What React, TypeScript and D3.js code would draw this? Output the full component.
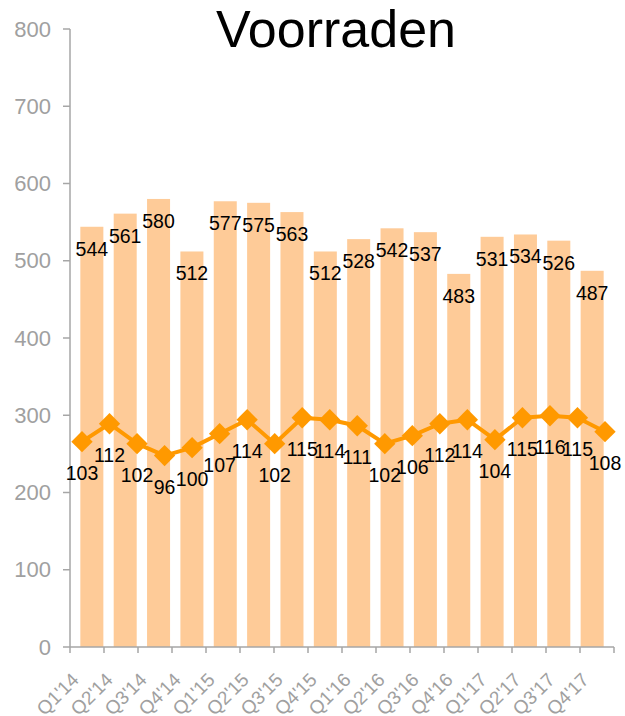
import React, { useEffect, useRef } from 'react';
import * as d3 from 'd3';

const quarters = [
  "Q1'14", "Q2'14", "Q3'14", "Q4'14",
  "Q1'15", "Q2'15", "Q3'15", "Q4'15",
  "Q1'16", "Q2'16", "Q3'16", "Q4'16",
  "Q1'17", "Q2'17", "Q3'17", "Q4'17",
];
const stockValues = [544, 561, 580, 512, 577, 575, 563, 512, 528, 542, 537, 483, 531, 534, 526, 487];
const indexValues = [103, 112, 102, 96, 100, 107, 114, 102, 115, 114, 111, 102, 106, 112, 114, 104, 115, 116, 115, 108];
const yTicks = [0, 100, 200, 300, 400, 500, 600, 700, 800];

const FONT = '"Liberation Sans", Arial, sans-serif';

const App: React.FC = () => {
  const svgRef = useRef<SVGSVGElement>(null);
  const width = 625;
  const height = 716;

  useEffect(() => {
    if (!svgRef.current) return;
    const svg = d3.select(svgRef.current);
    svg.selectAll('*').remove();

    const left = 70;
    const right = 614;
    const top = 29;
    const bottom = 647;

    const x = d3.scaleBand<string>().domain(quarters).range([left, right]).padding(0.31);
    const xOuter = d3.scaleBand<string>().domain(quarters).range([left, right]);
    const y = d3.scaleLinear().domain([0, 800]).range([bottom, top]);
    // secondary (hidden) axis for the line series
    const y2 = d3.scaleLinear().domain([0, 310]).range([bottom, top]);
    const xLine = d3.scalePoint<number>().domain(indexValues.map((_, i) => i)).range([82, 605]);

    // Title
    svg.append('text')
      .attr('x', 336)
      .attr('y', 47)
      .attr('text-anchor', 'middle')
      .style('font-family', FONT)
      .style('font-size', '52px')
      .style('fill', '#000')
      .text('Voorraden');

    // Bars
    svg.selectAll('.bar')
      .data(stockValues)
      .enter().append('rect')
      .attr('x', (_, i) => x(quarters[i]) || 0)
      .attr('width', x.bandwidth())
      .attr('y', d => y(d))
      .attr('height', d => bottom - y(d))
      .attr('fill', '#FECB98');

    // Bar labels
    svg.selectAll('.barlabel')
      .data(stockValues)
      .enter().append('text')
      .attr('x', (_, i) => (x(quarters[i]) || 0) + x.bandwidth() / 2)
      .attr('y', d => y(d) + 29)
      .attr('text-anchor', 'middle')
      .style('font-family', FONT)
      .style('font-size', '19.5px')
      .style('fill', '#000')
      .text(d => d);

    // Y axis
    const axisColor = '#A6A6A6';
    svg.append('line')
      .attr('x1', left).attr('x2', left)
      .attr('y1', top).attr('y2', bottom)
      .attr('stroke', axisColor).attr('stroke-width', 1.5);
    yTicks.forEach(t => {
      svg.append('line')
        .attr('x1', left - 7).attr('x2', left)
        .attr('y1', y(t)).attr('y2', y(t))
        .attr('stroke', axisColor).attr('stroke-width', 1.5);
      svg.append('text')
        .attr('x', 51)
        .attr('y', y(t))
        .attr('dy', '0.35em')
        .attr('text-anchor', 'end')
        .style('font-family', FONT)
        .style('font-size', '22px')
        .style('fill', '#A0A0A0')
        .text(t);
    });

    // X axis
    svg.append('line')
      .attr('x1', left).attr('x2', right)
      .attr('y1', bottom).attr('y2', bottom)
      .attr('stroke', axisColor).attr('stroke-width', 1.5);
    const boundaries = quarters.map(q => xOuter(q) || 0).concat([right]);
    boundaries.forEach(b => {
      svg.append('line')
        .attr('x1', b).attr('x2', b)
        .attr('y1', bottom).attr('y2', bottom + 6)
        .attr('stroke', axisColor).attr('stroke-width', 1.5);
    });
    quarters.forEach(q => {
      const cx = (xOuter(q) || 0) + xOuter.bandwidth() / 2 - 7;
      svg.append('text')
        .attr('transform', `translate(${cx},${bottom + 34}) rotate(-45)`)
        .attr('text-anchor', 'end')
        .style('font-family', FONT)
        .style('font-size', '19px')
        .style('fill', '#A0A0A0')
        .text(q);
    });

    // Line series
    const line = d3.line<number>()
      .x((_, i) => xLine(i) || 0)
      .y(d => y2(d));
    svg.append('path')
      .datum(indexValues)
      .attr('d', line)
      .attr('fill', 'none')
      .attr('stroke', '#FF9900')
      .attr('stroke-width', 4)
      .attr('stroke-linejoin', 'round');

    svg.selectAll('.marker')
      .data(indexValues)
      .enter().append('path')
      .attr('d', d3.symbol().type(d3.symbolDiamond2).size(290)())
      .attr('transform', (d, i) => `translate(${xLine(i)},${y2(d)})`)
      .attr('fill', '#FF9900');

    svg.selectAll('.linelabel')
      .data(indexValues)
      .enter().append('text')
      .attr('x', (_, i) => xLine(i) || 0)
      .attr('y', d => y2(d) + 38)
      .attr('text-anchor', 'middle')
      .style('font-family', FONT)
      .style('font-size', '19.5px')
      .style('fill', '#000')
      .text(d => d);
  }, []);

  return (
    <div style={{ position: 'absolute', left: 0, top: 0, background: 'white' }}>
      <svg ref={svgRef} width={width} height={height} style={{ display: 'block' }}></svg>
    </div>
  );
};

export default App;
